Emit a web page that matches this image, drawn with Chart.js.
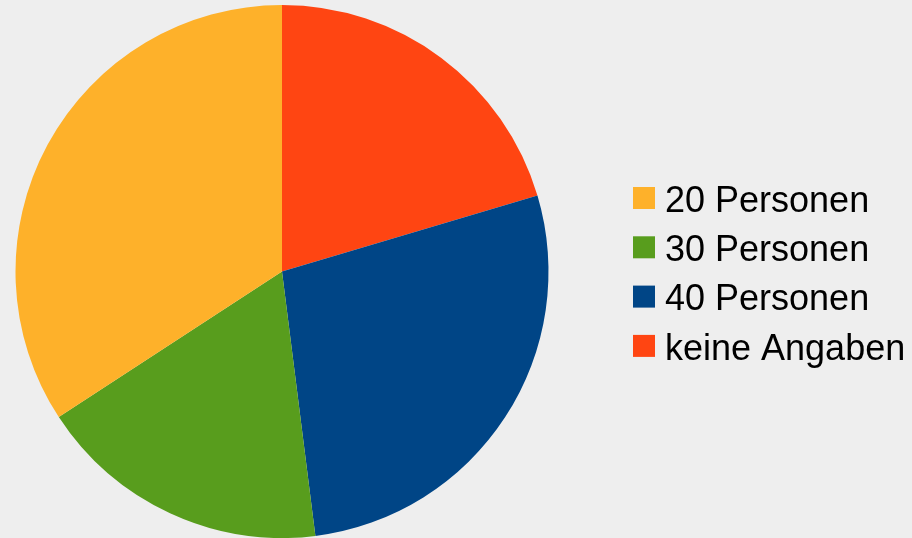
<!DOCTYPE html>
<html lang="de">
<head>
<meta charset="utf-8">
<title>Personen</title>
<script src="https://cdn.jsdelivr.net/npm/chart.js@4.4.1/dist/chart.umd.min.js"></script>
<style>
  html, body { margin: 0; padding: 0; background: #eeeeee; }
  #wrap { position: relative; width: 912px; height: 538px; }
</style>
</head>
<body>
<div id="wrap"><canvas id="pie"></canvas></div>
<script>
// legend order (as shown on the right)
const categories = ["20 Personen", "30 Personen", "40 Personen", "keine Angaben"];
// share of each slice in percent
const shares = [34.2, 17.8, 27.6, 20.4];
const sliceColors = ["#feb12a", "#589d1d", "#004586", "#ff4512"];

// the original runs counter-clockwise from 12 o'clock, Chart.js runs clockwise,
// so hand the data over reversed and let the legend undo that
const drawOrder = categories.map((_, i) => categories.length - 1 - i);

/* ---- legend drawn on the canvas, placed in the right padding ---- */
const sideLegend = {
  id: "sideLegend",
  afterDraw(chart, _args, opts) {
    const { ctx } = chart;
    const ds = chart.data.datasets[0];
    const labels = chart.data.labels;
    const n = labels.length;
    ctx.save();
    ctx.font = opts.fontSize + "px 'Liberation Sans', Arial, sans-serif";
    ctx.textBaseline = "alphabetic";
    ctx.textAlign = "left";
    for (let k = 0; k < n; k++) {
      const i = n - 1 - k; // back to legend order
      const top = opts.top + k * opts.step;
      ctx.fillStyle = ds.backgroundColor[i];
      ctx.fillRect(opts.left, top, opts.box, opts.box);
      ctx.fillStyle = "#000000";
      ctx.fillText(labels[i], opts.textLeft, top + opts.baseline);
    }
    ctx.restore();
  },
};

new Chart(document.getElementById("pie"), {
  type: "pie",
  data: {
    labels: drawOrder.map((i) => categories[i]),
    datasets: [
      {
        data: drawOrder.map((i) => shares[i]),
        backgroundColor: drawOrder.map((i) => sliceColors[i]),
        borderWidth: 0,
      },
    ],
  },
  options: {
    responsive: true,
    maintainAspectRatio: false,
    animation: false,
    layout: { padding: { top: 5, bottom: 0, left: 15, right: 363 } },
    plugins: {
      legend: { display: false },
      tooltip: { enabled: false },
      sideLegend: {
        left: 633,
        top: 187,
        step: 49.3,
        box: 22,
        textLeft: 665,
        baseline: 24.6,
        fontSize: 36,
      },
    },
  },
  plugins: [sideLegend],
});
</script>
</body>
</html>
